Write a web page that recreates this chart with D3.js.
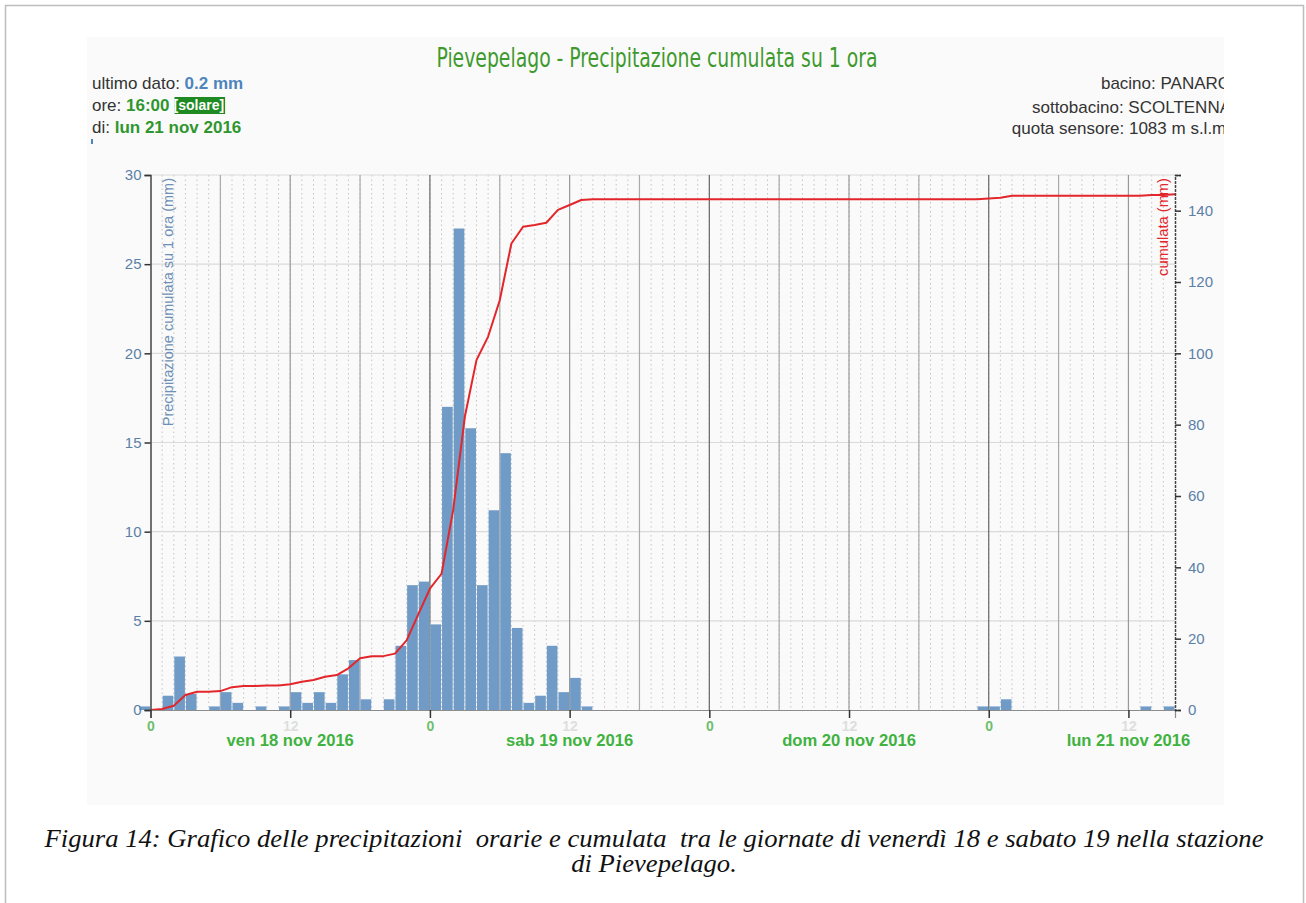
<!DOCTYPE html>
<html>
<head>
<meta charset="utf-8">
<script src="https://cdn.jsdelivr.net/npm/d3@7"></script>
<style>
  body { margin: 0; background: #fff; }
  svg { display: block; }
</style>
</head>
<body>
<div id="chart"></div>
<script>
// Pievepelago - precipitazione oraria e cumulata, 18-21 nov 2016
const inizio = new Date(2016, 10, 18, 0, 0);
const fine = new Date(2016, 10, 21, 16, 0);

// barre orarie: ora di fine (ore dalle 00:00 del 18 nov) e mm
const oreBarre = [0, 2, 3, 4, 6, 7, 8, 10, 12, 13, 14, 15, 16, 17, 18, 19,
  21, 22, 23, 24, 25, 26, 27, 28, 29, 30, 31, 32, 33, 34, 35, 36, 37, 38,
  72, 73, 74, 86, 88];
const mmOra = [0.2, 0.8, 3.0, 0.9, 0.2, 1.0, 0.4, 0.2, 0.2, 1.0, 0.4, 1.0, 0.4, 2.0, 2.8, 0.6,
  0.6, 3.6, 7.0, 7.2, 4.8, 17.0, 27.0, 15.8, 7.0, 11.2, 14.4, 4.6, 0.4, 0.8, 3.6, 1.0, 1.8, 0.2,
  0.2, 0.2, 0.6, 0.2, 0.2];

// linea cumulata: ore e mm
const oreCum = [0, 1, 2, 3, 4, 5, 6, 7, 8, 9, 10, 11, 12, 13, 14, 15, 16, 17, 18, 19,
  20, 21, 22, 23, 24, 25, 26, 27, 28, 29, 30, 31, 32, 33, 34, 35, 36, 37, 38,
  71, 72, 73, 74, 85, 86, 87, 88];
const mmCum = [0, 0.3, 1.2, 4.2, 5.1, 5.1, 5.3, 6.4, 6.7, 6.7, 6.9, 6.9, 7.2, 7.9, 8.4, 9.3, 9.8, 11.7, 14.5, 15.1,
  15.1, 15.8, 19.5, 26.8, 34.0, 38.2, 56.1, 82.2, 98.1, 104.7, 114.9, 130.8, 135.5, 136.0, 136.6, 140.2, 141.6, 143.0, 143.2,
  143.2, 143.4, 143.6, 144.2, 144.2, 144.4, 144.4, 144.6];

const tickSx = [0, 5, 10, 15, 20, 25, 30];
const tickDx = [0, 20, 40, 60, 80, 100, 120, 140, 150];
const giorni = ['ven 18 nov 2016', 'sab 19 nov 2016', 'dom 20 nov 2016', 'lun 21 nov 2016'];

const infoSx = [
  [['ultimo dato: ', 'norm'], ['0.2 mm', 'blu']],
  [['ore: ', 'norm'], ['16:00', 'verde']],
  [['di: ', 'norm'], ['lun 21 nov 2016', 'verde']]
];
const infoDx = ['bacino: PANARO', 'sottobacino: SCOLTENNA', 'quota sensore: 1083 m s.l.m.'];

const W = 1306, H = 903;
const xSx = 150.5, xDx = 1175, yAlto = 175, yBase = 710;
const font = 'Liberation Sans, Arial, sans-serif';

const ora = h => d3.timeHour.offset(inizio, h);

const svg = d3.select('#chart').append('svg')
  .attr('width', W)
  .attr('height', H);

// cornice della figura
svg.append('rect')
  .attr('x', 5.5).attr('y', 5.5)
  .attr('width', 1298).attr('height', 910)
  .attr('fill', '#fff')
  .attr('stroke', '#bdbdbd')
  .attr('stroke-width', 1.5);

// area immagine del grafico
svg.append('defs').append('clipPath').attr('id', 'clipImg')
  .append('rect').attr('x', 87).attr('y', 37).attr('width', 1137).attr('height', 768);

const img = svg.append('g').attr('clip-path', 'url(#clipImg)');
img.append('rect')
  .attr('x', 87).attr('y', 37).attr('width', 1137).attr('height', 768)
  .attr('fill', '#fafafa');

const x = d3.scaleTime().domain([inizio, fine]).range([xSx, xDx]);
const yS = d3.scaleLinear().domain([0, 30]).range([yBase, yAlto]);
const yD = d3.scaleLinear().domain([0, 150]).range([yBase, yAlto]);

// griglia oraria punteggiata
img.append('g')
  .selectAll('line')
  .data(d3.timeHour.range(ora(1), fine))
  .join('line')
  .attr('x1', d => x(d)).attr('x2', d => x(d))
  .attr('y1', yAlto).attr('y2', yBase)
  .attr('stroke', '#c4c4c4')
  .attr('stroke-width', 1)
  .attr('stroke-dasharray', '1.5,3');

// griglia orizzontale
img.append('g')
  .selectAll('line')
  .data(tickSx.slice(1))
  .join('line')
  .attr('x1', xSx).attr('x2', xDx)
  .attr('y1', d => yS(d)).attr('y2', d => yS(d))
  .attr('stroke', '#dadada')
  .attr('stroke-width', 1.2);

// griglia ogni 6 ore
img.append('g')
  .selectAll('line')
  .data(d3.timeHour.every(6).range(ora(6), fine))
  .join('line')
  .attr('x1', d => x(d)).attr('x2', d => x(d))
  .attr('y1', yAlto).attr('y2', yBase)
  .attr('stroke', d => d.getHours() === 0 ? '#666' : (d.getHours() === 12 ? '#999' : '#aaa'))
  .attr('stroke-width', 1.2);

// barre
const barre = oreBarre.map((h, i) => ({ fine: ora(h), inizio: ora(h - 1), mm: mmOra[i] }));
img.append('g')
  .selectAll('rect')
  .data(barre)
  .join('rect')
  .attr('x', d => x(d.inizio) + 0.5)
  .attr('width', d => x(d.fine) - x(d.inizio) - 1)
  .attr('y', d => yS(d.mm))
  .attr('height', d => yBase - yS(d.mm))
  .attr('fill', '#6f9bc6');

// linea cumulata
const cum = oreCum.map((h, i) => ({ t: ora(h), mm: mmCum[i] }));
img.append('path')
  .datum(cum)
  .attr('fill', 'none')
  .attr('stroke', '#e3262b')
  .attr('stroke-width', 2)
  .attr('stroke-linejoin', 'round')
  .attr('d', d3.line().x(d => x(d.t)).y(d => yD(d.mm)));

// asse x
const axX = img.append('g')
  .attr('transform', `translate(0,${yBase})`)
  .call(d3.axisBottom(x)
    .tickValues(d3.timeHour.every(12).range(inizio, fine))
    .tickSize(8)
    .tickFormat(d => String(d.getHours())));
axX.select('.domain').attr('stroke', '#8c8c8c').attr('stroke-width', 1.2);
axX.selectAll('.tick line').attr('stroke', '#333').attr('stroke-width', 1.5);
axX.selectAll('.tick text')
  .attr('font-family', font)
  .attr('font-size', 14)
  .attr('font-weight', 'bold')
  .attr('fill', d => d.getHours() === 0 ? '#6fbf6f' : '#dedede');

img.append('g')
  .selectAll('text')
  .data(giorni)
  .join('text')
  .attr('x', (d, i) => x(ora(i * 24 + 12)))
  .attr('y', 746)
  .attr('text-anchor', 'middle')
  .attr('font-family', font)
  .attr('font-size', 16.6)
  .attr('font-weight', 'bold')
  .attr('fill', '#3fb23f')
  .text(d => d);

// asse sinistro
const axS = img.append('g')
  .attr('transform', `translate(${xSx},0)`)
  .call(d3.axisLeft(yS).tickValues(tickSx).tickSize(6).tickPadding(3));
axS.select('.domain').attr('stroke', '#444').attr('stroke-width', 1.5);
axS.selectAll('.tick line').attr('stroke', '#333').attr('stroke-width', 1.5);
axS.selectAll('.tick text')
  .attr('font-family', font)
  .attr('font-size', 15)
  .attr('fill', '#5b80a8');

img.append('text')
  .attr('transform', `translate(172.5,${yAlto + 3}) rotate(-90)`)
  .attr('text-anchor', 'end')
  .attr('font-family', font)
  .attr('font-size', 14.5)
  .attr('fill', '#6f90b6')
  .text('Precipitazione cumulata su 1 ora (mm)');

// asse destro
const axD = img.append('g')
  .attr('transform', `translate(${xDx},0)`)
  .call(d3.axisRight(yD).tickValues(tickDx).tickSize(6).tickPadding(7)
    .tickFormat(d => d === 150 ? '' : d));
axD.select('.domain').attr('stroke', '#444').attr('stroke-width', 1.5).attr('stroke-dasharray', '3,1');
axD.selectAll('.tick line').attr('stroke', '#333').attr('stroke-width', 1.5);
axD.selectAll('.tick text')
  .attr('font-family', font)
  .attr('font-size', 15)
  .attr('fill', '#5b80a8');

img.append('text')
  .attr('transform', `translate(1168,${yAlto + 3}) rotate(-90)`)
  .attr('text-anchor', 'end')
  .attr('font-family', font)
  .attr('font-size', 14.7)
  .attr('fill', '#e3262b')
  .text('cumulata (mm)');

// titolo
img.append('text')
  .attr('x', 657).attr('y', 67)
  .attr('text-anchor', 'middle')
  .attr('font-family', 'Liberation Sans Narrow, DejaVu Sans Condensed, sans-serif')
  .attr('font-size', 26)
  .attr('fill', '#3f9a2e')
  .attr('textLength', 441)
  .attr('lengthAdjust', 'spacingAndGlyphs')
  .text('Pievepelago - Precipitazione cumulata su 1 ora');

// info a sinistra
const colori = { norm: '#333', blu: '#4d84bd', verde: '#2f962f' };
const righeSx = [89, 111, 133];
infoSx.forEach((riga, i) => {
  const t = img.append('text')
    .attr('x', 92).attr('y', righeSx[i])
    .attr('font-family', font)
    .attr('font-size', 17);
  riga.forEach(([s, c]) => {
    t.append('tspan')
      .attr('fill', colori[c])
      .attr('font-weight', c === 'norm' ? 'normal' : 'bold')
      .text(s);
  });
  if (i === 1) {
    const w = t.node().getComputedTextLength();
    const s = img.append('text')
      .attr('x', 92 + w + 4).attr('y', righeSx[i] - 1)
      .attr('font-family', font)
      .attr('font-size', 14)
      .attr('font-weight', 'bold')
      .attr('fill', '#fff')
      .text('[solare]');
    const ws = s.node().getComputedTextLength();
    img.insert('rect', () => s.node())
      .attr('x', 92 + w + 5).attr('y', righeSx[i] - 14)
      .attr('width', ws).attr('height', 17)
      .attr('fill', '#1f8a22');
  }
});
img.append('rect')
  .attr('x', 91).attr('y', 139).attr('width', 2).attr('height', 5)
  .attr('fill', '#4d84bd');

// info a destra (tagliate dal bordo dell'immagine)
const righeDx = [89, 113, 134];
img.append('g')
  .selectAll('text')
  .data(infoDx)
  .join('text')
  .attr('x', 1231)
  .attr('y', (d, i) => righeDx[i])
  .attr('text-anchor', 'end')
  .attr('font-family', font)
  .attr('font-size', 17)
  .attr('fill', '#333')
  .text(d => d);

// didascalia: serif tipo Times se presente, altrimenti DejaVu condensato
function larghezza(famiglia) {
  const t = svg.append('text').attr('font-size', 20).attr('font-family', famiglia)
    .attr('font-style', 'italic').text('Grafico delle precipitazioni');
  const w = t.node().getComputedTextLength();
  t.remove();
  return w;
}
const haTimes = larghezza("'Liberation Serif', monospace") !== larghezza('monospace');
const fontDid = haTimes ? "'Liberation Serif', serif" : "'DejaVu Serif Condensed', 'DejaVu Serif', serif";

const didascalia = [
  'Figura 14: Grafico delle precipitazioni  orarie e cumulata  tra le giornate di venerdì 18 e sabato 19 nella stazione',
  'di Pievepelago.'
];
const cap = svg.append('g')
  .selectAll('text')
  .data(didascalia)
  .join('text')
  .attr('x', 654)
  .attr('y', (d, i) => 847 + i * 25)
  .attr('text-anchor', 'middle')
  .attr('font-family', fontDid)
  .attr('font-style', 'italic')
  .attr('font-size', haTimes ? 25 : 22)
  .attr('fill', '#111')
  .style('white-space', 'pre')
  .text(d => d);
const lunghezze = cap.nodes().map(n => n.getComputedTextLength());
const stretto = 1219 / lunghezze[0];
cap.attr('textLength', (d, i) => lunghezze[i] * stretto)
  .attr('lengthAdjust', 'spacingAndGlyphs');
</script>
</body>
</html>
